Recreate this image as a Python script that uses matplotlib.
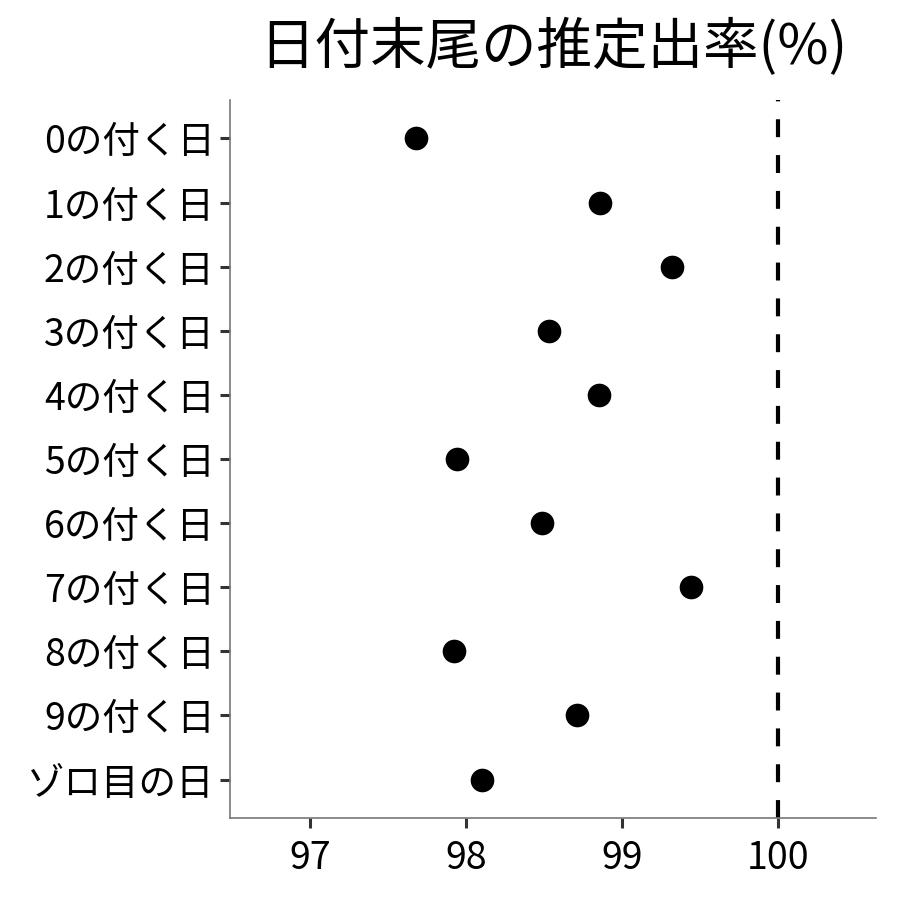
import matplotlib
matplotlib.use("Agg")
import matplotlib.pyplot as plt

plt.rcParams['font.family'] = ['Noto Sans CJK JP', 'DejaVu Sans']

# data
labels = ['0の付く日', '1の付く日', '2の付く日', '3の付く日', '4の付く日',
          '5の付く日', '6の付く日', '7の付く日', '8の付く日', '9の付く日',
          'ゾロ目の日']
rates = [97.68, 98.86, 99.32, 98.53, 98.85, 97.94, 98.49, 99.44, 97.92, 98.71, 98.10]
xticks = [97, 98, 99, 100]
ref_line = 100

fig = plt.figure(figsize=(9, 9), dpi=100)
ax = fig.add_axes([230/900, 1 - 818/900, (876 - 230)/900, (818 - 100)/900])

ypos = list(range(len(labels)))
ax.scatter(rates, ypos, s=290, color='black', zorder=3, linewidths=0)
ax.axvline(ref_line, color='black', lw=3, linestyle=(0, (4.3, 4.3)))

ax.set_xlim(96.487, 100.628)
ax.set_ylim(len(labels) - 0.4, -0.6)
ax.set_xticks(xticks)
ax.set_xticklabels([str(t) for t in xticks])
ax.set_yticks(ypos)
ax.set_yticklabels(labels)

for s in ['top', 'right']:
    ax.spines[s].set_visible(False)
for s in ['left', 'bottom']:
    ax.spines[s].set_color('#777777')
    ax.spines[s].set_linewidth(1.2)

ax.tick_params(axis='both', colors='#333333', labelcolor='black', labelsize=27,
               length=7, width=2.2, direction='out')
ax.tick_params(axis='x', pad=8)
ax.tick_params(axis='y', pad=4)

fig.text(553/900, 1 - 48/900, '日付末尾の推定出率(%)', ha='center', va='center', fontsize=40)

fig.savefig('out.png', dpi=100, facecolor='white')
